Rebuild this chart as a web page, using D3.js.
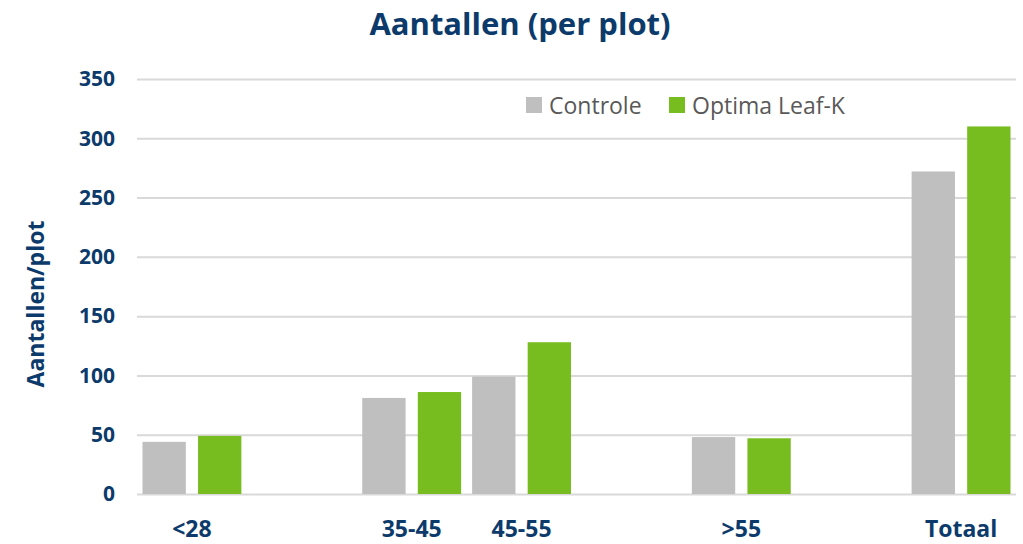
<!DOCTYPE html>
<html>
<head>
<meta charset="utf-8">
<script src="https://cdn.jsdelivr.net/npm/d3@7"></script>
<style>
  body { margin: 0; background: #fff; }
  text { font-family: "Open Sans", "Noto Sans", sans-serif; }
</style>
</head>
<body>
<script>
// Categories (empty labels are the size classes without data)
var categories = ["<28", "28-35", "35-45", "45-55", "c5", ">55", "c7", "Totaal"];
var labels = ["<28", "", "35-45", "45-55", "", ">55", "", "Totaal"];
var series = ["Controle", "Optima Leaf-K"];
var controle = [44, null, 81, 99, null, 48, null, 272];
var optima = [49, null, 86, 128, null, 47, null, 310];
var yTicks = [0, 50, 100, 150, 200, 250, 300, 350];

var w = 1023, h = 544;
var margin = {left: 137, right: 7, top: 79, bottom: 50};
var width = w - margin.left - margin.right;
var height = h - margin.top - margin.bottom;

var colors = ["#bfbfbf", "#78bd20"];
var blue = "#0c3b6b";

var svg = d3.select("body").append("svg")
    .attr("width", w)
    .attr("height", h);

// Title
svg.append("text")
    .attr("x", 520).attr("y", 35)
    .attr("text-anchor", "middle")
    .style("font-size", "31px").style("font-weight", "bold")
    .style("fill", blue)
    .text("Aantallen (per plot)");

var x = d3.scaleBand()
    .domain(categories)
    .range([0, width]);

var inner = d3.scaleBand()
    .domain(series)
    .range([x.bandwidth() * 0.05, x.bandwidth() * 0.95])
    .paddingInner(0.22);

var y = d3.scaleLinear()
    .domain([0, 350])
    .range([height, 0]);

var g = svg.append("g")
    .attr("transform", "translate(" + margin.left + "," + margin.top + ")");

// Gridlines
g.append("g")
    .call(d3.axisLeft(y).tickValues(yTicks).tickSize(-width).tickFormat(""))
    .call(s => s.select(".domain").remove())
    .selectAll("line")
    .attr("stroke", "#d9d9d9")
    .attr("stroke-width", 2);

// Y tick labels
g.append("g")
    .call(d3.axisLeft(y).tickValues(yTicks).tickSize(0).tickPadding(22))
    .call(s => s.select(".domain").remove())
    .selectAll("text")
    .style("font-size", "21px").style("font-weight", "bold")
    .style("fill", blue);

// Bars
var data = [];
categories.forEach(function(c, i) {
    data.push({cat: c, s: series[0], v: controle[i]});
    data.push({cat: c, s: series[1], v: optima[i]});
});

g.selectAll(".bar")
    .data(data.filter(d => d.v != null))
    .enter().append("rect")
    .attr("class", "bar")
    .attr("x", d => x(d.cat) + inner(d.s))
    .attr("width", inner.bandwidth())
    .attr("y", d => y(d.v))
    .attr("height", d => y(0) - y(d.v))
    .attr("fill", d => colors[series.indexOf(d.s)]);

// X labels
g.append("g")
    .attr("transform", "translate(0," + height + ")")
    .call(d3.axisBottom(x).tickSize(0).tickPadding(27).tickFormat((d, i) => labels[i]))
    .call(s => s.select(".domain").remove())
    .selectAll("text")
    .style("font-size", "23px").style("font-weight", "bold")
    .style("fill", blue);

// Y axis title
svg.append("text")
    .attr("transform", "translate(44,304) rotate(-90)")
    .attr("text-anchor", "middle")
    .style("font-size", "23px").style("font-weight", "bold")
    .style("fill", blue)
    .text("Aantallen/plot");

// Legend
var legendX = [526, 669];
var legend = svg.selectAll(".legend")
    .data(series)
    .enter().append("g")
    .attr("class", "legend")
    .attr("transform", (d, i) => "translate(" + legendX[i] + ",97)");

legend.append("rect")
    .attr("width", 16).attr("height", 16)
    .attr("fill", (d, i) => colors[i]);

legend.append("text")
    .attr("x", 23).attr("y", 17)
    .style("font-size", "23px")
    .style("fill", "#595959")
    .text(d => d);
</script>
</body>
</html>
